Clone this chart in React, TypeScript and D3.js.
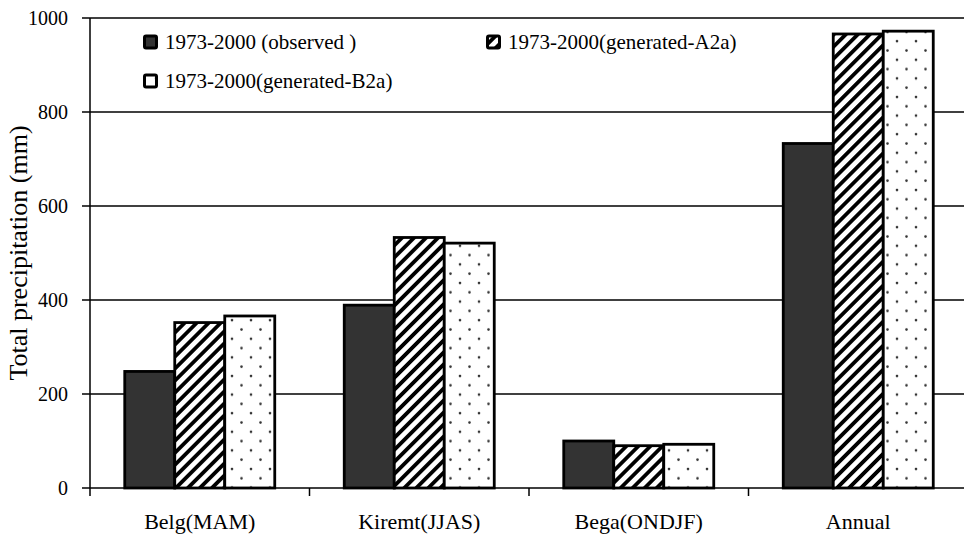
import React from "react";
import * as d3 from "d3";

const categories = ["Belg(MAM)", "Kiremt(JJAS)", "Bega(ONDJF)", "Annual"];
const seriesNames = ["1973-2000 (observed )", "1973-2000(generated-A2a)", "1973-2000(generated-B2a)"];
const observed = [248, 389, 100, 733];
const generatedA2a = [352, 533, 90, 966];
const generatedB2a = [366, 521, 93, 972];
const yTicks = [0, 200, 400, 600, 800, 1000];

const W = 964;
const H = 536;
const left = 90;
const right = 968;
const top = 18;
const bottom = 488;
const FONT = "'Liberation Serif', 'Times New Roman', serif";

export default function App() {
  const series = [observed, generatedA2a, generatedB2a];
  const fills = ["#333333", "url(#hatch)", "url(#dots)"];
  const x = d3.scaleBand<string>().domain(categories).range([left, right]).paddingInner(0).paddingOuter(0);
  const inner = d3.scaleBand<number>().domain([0, 1, 2]).range([0, 150]);
  const y = d3.scaleLinear().domain([0, 1000]).range([bottom, top]);
  const bw = x.bandwidth();
  const groupOffset = (bw - 150) / 2;

  const legend = [
    { i: 0, lx: 143, ly: 42 },
    { i: 1, lx: 486, ly: 42 },
    { i: 2, lx: 143, ly: 81 },
  ];

  return (
    <svg width={W} height={H} style={{ position: "absolute", left: 0, top: 0, background: "#fff" }}>
      <defs>
        <pattern id="hatch" width="8.5" height="8.5" patternUnits="userSpaceOnUse" patternTransform="rotate(45)">
          <rect width="8.5" height="8.5" fill="#fff" />
          <rect x="0" y="0" width="3.8" height="8.5" fill="#000" />
        </pattern>
        <pattern id="dots" width="19" height="18.6" patternUnits="userSpaceOnUse">
          <rect width="19" height="18.6" fill="#fff" />
          <circle cx="4" cy="4" r="1.3" fill="#333" />
          <circle cx="13.5" cy="13.3" r="1.3" fill="#333" />
        </pattern>
      </defs>
      {yTicks.filter((t) => t > 0).map((t) => (
        <line key={t} x1={left} x2={W} y1={y(t)} y2={y(t)} stroke="#000" strokeWidth={1.5} />
      ))}
      {categories.map((c, ci) =>
        series.map((s, si) => (
          <rect
            key={c + si}
            x={(x(c) as number) + groupOffset + (inner(si) as number)}
            y={y(s[ci])}
            width={inner.bandwidth()}
            height={y(0) - y(s[ci])}
            fill={fills[si]}
            stroke="#000"
            strokeWidth={2.8}
          />
        ))
      )}
      <line x1={left} x2={left} y1={top} y2={bottom + 8} stroke="#000" strokeWidth={1.5} />
      <line x1={left} x2={W} y1={bottom} y2={bottom} stroke="#000" strokeWidth={1.5} />
      {yTicks.map((t) => (
        <g key={t}>
          <line x1={left - 8} x2={left} y1={y(t)} y2={y(t)} stroke="#000" strokeWidth={1.5} />
          <text x={68} y={y(t)} dy="0.35em" textAnchor="end" fontFamily={FONT} fontSize={20}>
            {t}
          </text>
        </g>
      ))}
      {categories.map((c, ci) => (
        <g key={c}>
          {ci > 0 && <line x1={x(c)} x2={x(c)} y1={bottom} y2={bottom + 8} stroke="#000" strokeWidth={1.5} />}
          <text x={(x(c) as number) + bw / 2} y={529} textAnchor="middle" fontFamily={FONT} fontSize={22}>
            {c}
          </text>
        </g>
      ))}
      <text
        transform={`translate(27, ${(top + bottom) / 2}) rotate(-90)`}
        textAnchor="middle"
        fontFamily={FONT}
        fontSize={26}
      >
        Total precipitation (mm)
      </text>
      {legend.map((l) => (
        <g key={l.i}>
          <rect x={l.lx + 1.5} y={l.ly - 6} width={12} height={12} fill={fills[l.i]} stroke="#000" strokeWidth={3} rx={1.5} />
          <text x={l.lx + 22} y={l.ly} dy="0.35em" fontFamily={FONT} fontSize={21}>
            {seriesNames[l.i]}
          </text>
        </g>
      ))}
    </svg>
  );
}
